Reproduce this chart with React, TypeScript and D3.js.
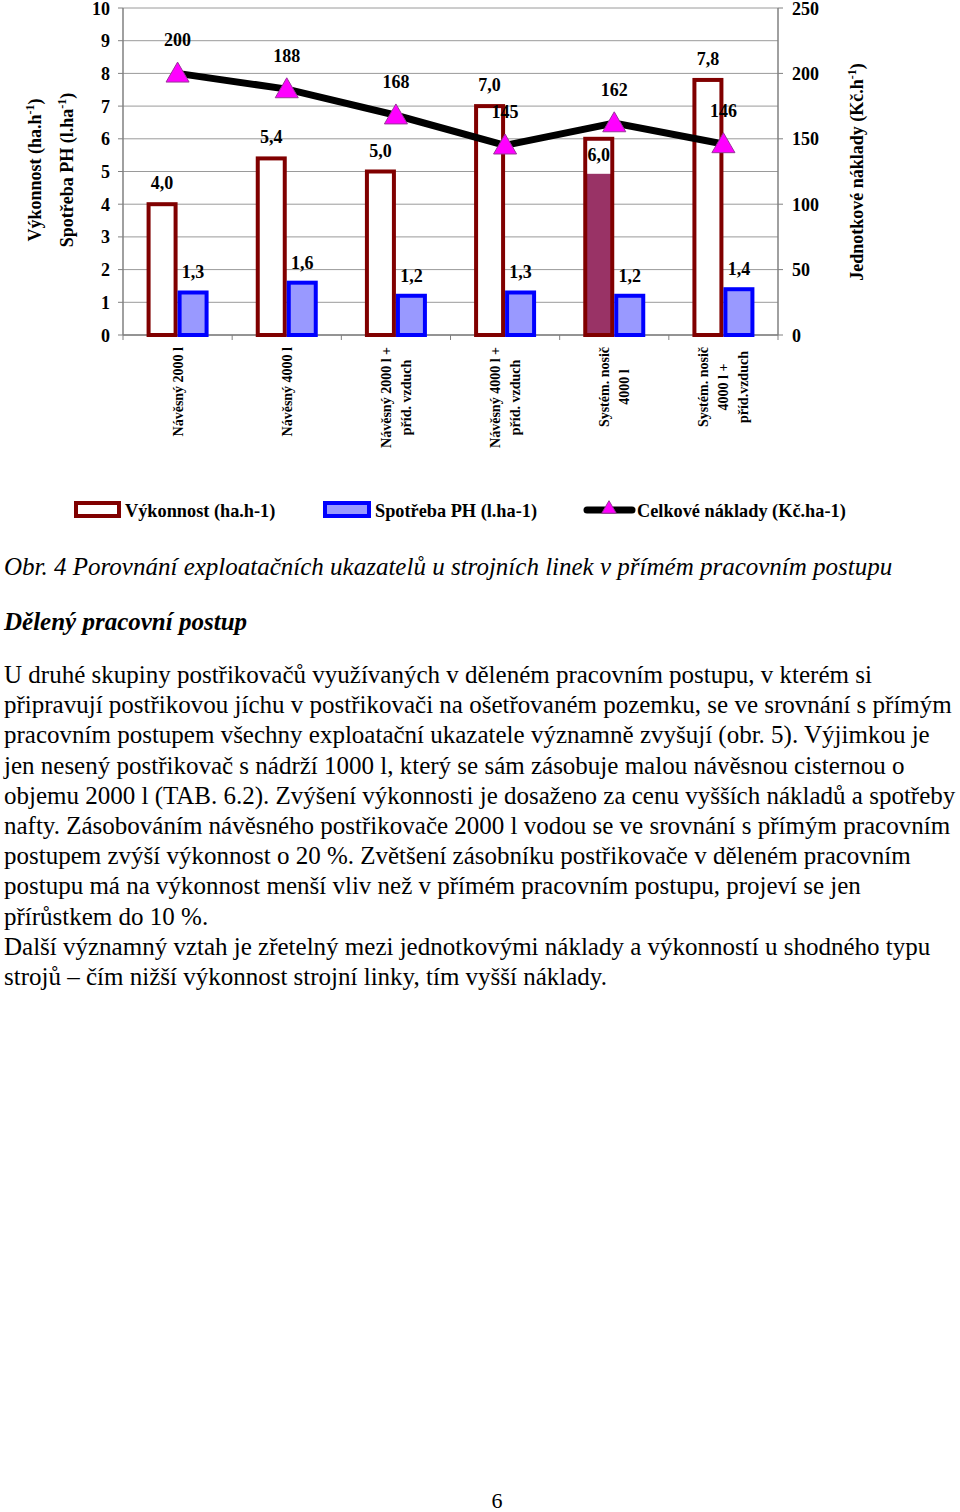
import React from "react";
import * as d3 from "d3";

const categories: string[][] = [
  ["Návěsný 2000 l"],
  ["Návěsný 4000 l"],
  ["Návěsný 2000 l +", "příd. vzduch"],
  ["Návěsný 4000 l +", "příd. vzduch"],
  ["Systém. nosič", "4000 l"],
  ["Systém. nosič", "4000 l +", "příd.vzduch"],
];
const vykonnost = [4.0, 5.4, 5.0, 7.0, 6.0, 7.8];
const spotreba = [1.3, 1.6, 1.2, 1.3, 1.2, 1.4];
const naklady = [200, 188, 168, 145, 162, 146];
const leftTicks = [0, 1, 2, 3, 4, 5, 6, 7, 8, 9, 10];
const rightTicks = [0, 50, 100, 150, 200, 250];
const highlightIndex = 4;

const caption = "Obr. 4 Porovnání exploatačních ukazatelů u strojních linek v přímém pracovním postupu";
const heading = "Dělený pracovní postup";
const bodyLines = [
  "U druhé skupiny postřikovačů využívaných v děleném pracovním postupu, v kterém si",
  "připravují postřikovou jíchu v postřikovači na ošetřovaném pozemku, se ve srovnání s přímým",
  "pracovním postupem všechny exploatační ukazatele významně zvyšují (obr. 5). Výjimkou je",
  "jen nesený postřikovač s nádrží 1000 l, který se sám zásobuje malou návěsnou cisternou o",
  "objemu 2000 l (TAB. 6.2). Zvýšení výkonnosti je dosaženo za cenu vyšších nákladů a spotřeby",
  "nafty. Zásobováním návěsného postřikovače 2000 l vodou se ve srovnání s přímým pracovním",
  "postupem zvýší výkonnost o 20 %. Zvětšení zásobníku postřikovače v děleném pracovním",
  "postupu má na výkonnost menší vliv než v přímém pracovním postupu, projeví se jen",
  "přírůstkem do 10 %.",
  "Další významný vztah je zřetelný mezi jednotkovými náklady a výkonností u shodného typu",
  "strojů – čím nižší výkonnost strojní linky, tím vyšší náklady.",
];

const FONT = "'Liberation Serif', 'Times New Roman', serif";
const CAT_FONT = 14;

let measureCtx: CanvasRenderingContext2D | null = null;
function measure(text: string, font: string): number {
  if (!measureCtx) {
    const c = document.createElement("canvas");
    measureCtx = c.getContext("2d");
  }
  if (!measureCtx) return text.length * 7;
  measureCtx.font = font;
  return measureCtx.measureText(text).width;
}

export default function App() {
  const left = 123, right = 778, top = 8, bottom = 335;
  const idx = categories.map((_, i) => i);
  const x0 = d3.scaleBand<number>().domain(idx).range([left, right]);
  const bw = x0.bandwidth();
  const x1 = d3.scaleBand<string>().domain(["v", "s"]).range([bw / 2 - 31, bw / 2 + 31]);
  const yL = d3.scaleLinear().domain([0, 10]).range([bottom, top]);
  const yR = d3.scaleLinear().domain([0, 250]).range([bottom, top]);
  const cx = (i: number) => (x0(i) as number) + bw / 2;
  const line = d3.line<number>().x((_, i) => cx(i)).y((d) => yR(d));
  const tri = d3.symbol().type(d3.symbolTriangle).size(230)();

  const darkRed = "#800000";
  const blue = "#0000FF";
  const lightBlue = "#9999FF";
  const purple = "#993366";
  const grid = "#9a9a9a";
  const sw = 4;
  const catFont = `bold ${CAT_FONT}px 'Liberation Serif'`;

  return (
    <svg width={960} height={1512} style={{ position: "absolute", left: 0, top: 0, background: "#fff" }} fontFamily={FONT}>
      <rect x={0} y={0} width={960} height={1512} fill="#fff" />
      {leftTicks.map((t) => (
        <line key={"g" + t} x1={left} x2={right} y1={yL(t)} y2={yL(t)} stroke={grid} strokeWidth={1} />
      ))}
      <line x1={left} x2={left} y1={top} y2={bottom} stroke="#808080" strokeWidth={1.5} />
      <line x1={right} x2={right} y1={top} y2={bottom} stroke="#808080" strokeWidth={1.5} />
      <line x1={left} x2={right} y1={bottom} y2={bottom} stroke="#808080" strokeWidth={1.5} />
      {leftTicks.map((t) => (
        <g key={"lt" + t}>
          <line x1={left - 5} x2={left} y1={yL(t)} y2={yL(t)} stroke="#808080" />
          <text x={110} y={yL(t) + 6.5} textAnchor="end" fontSize={18} fontWeight="bold">{t}</text>
        </g>
      ))}
      {rightTicks.map((t) => (
        <g key={"rt" + t}>
          <line x1={right} x2={right + 5} y1={yR(t)} y2={yR(t)} stroke="#808080" />
          <text x={792} y={yR(t) + 6.5} textAnchor="start" fontSize={18} fontWeight="bold">{t}</text>
        </g>
      ))}
      {idx.concat([idx.length]).map((i) => {
        const xx = i < idx.length ? (x0(i) as number) : right;
        return <line key={"xt" + i} x1={xx} x2={xx} y1={bottom} y2={bottom + 5} stroke="#808080" />;
      })}
      {vykonnost.map((v, i) => {
        const bx = (x0(i) as number) + (x1("v") as number);
        const w = x1.bandwidth();
        const hl = i === highlightIndex;
        return (
          <g key={"v" + i}>
            <rect x={bx + sw / 2} y={yL(v)} width={w - sw} height={bottom - yL(v)} fill={hl ? purple : "#fff"} stroke={darkRed} strokeWidth={sw} />
            {hl ? <rect x={bx + sw} y={yL(v) + sw / 2} width={w - 2 * sw} height={33} fill="#fff" /> : null}
            <text x={bx + w / 2} y={hl ? yL(v) + 22 : yL(v) - 15} textAnchor="middle" fontSize={18} fontWeight="bold">
              {v.toFixed(1).replace(".", ",")}
            </text>
          </g>
        );
      })}
      {spotreba.map((v, i) => {
        const bx = (x0(i) as number) + (x1("s") as number);
        const w = x1.bandwidth();
        return (
          <g key={"s" + i}>
            <rect x={bx + sw / 2} y={yL(v)} width={w - sw} height={bottom - yL(v)} fill={lightBlue} stroke={blue} strokeWidth={sw} />
            <text x={bx + w / 2} y={yL(v) - 14} textAnchor="middle" fontSize={18} fontWeight="bold">
              {v.toFixed(1).replace(".", ",")}
            </text>
          </g>
        );
      })}
      <path d={line(naklady) as string} fill="none" stroke="#000" strokeWidth={7} />
      {naklady.map((v, i) => (
        <g key={"n" + i}>
          <path d={tri as string} transform={`translate(${cx(i)},${yR(v) + 2})`} fill="#FF00FF" stroke="#993399" strokeWidth={1} />
          <text x={cx(i)} y={yR(v) - 27} textAnchor="middle" fontSize={18} fontWeight="bold">{v}</text>
        </g>
      ))}
      {categories.map((lines, i) => {
        const n = lines.length;
        const maxW = Math.max(...lines.map((l) => measure(l, catFont)));
        const centerY = 347 + maxW / 2;
        return (
          <g key={"c" + i}>
            {lines.map((ln, j) => {
              const bx = cx(i) + (j - (n - 1) / 2) * 20 + 5;
              return (
                <text key={j} transform={`translate(${bx},${centerY}) rotate(-90)`} textAnchor="middle" fontSize={CAT_FONT} fontWeight="bold">
                  {ln}
                </text>
              );
            })}
          </g>
        );
      })}
      <text transform="translate(41,170) rotate(-90)" textAnchor="middle" fontSize={18} fontWeight="bold">
        Výkonnost (ha.h<tspan dy={-7} fontSize={12}>-1</tspan><tspan dy={7}>)</tspan>
      </text>
      <text transform="translate(73,170) rotate(-90)" textAnchor="middle" fontSize={18} fontWeight="bold">
        Spotřeba PH (l.ha<tspan dy={-7} fontSize={12}>-1</tspan><tspan dy={7}>)</tspan>
      </text>
      <text transform="translate(863,172) rotate(-90)" textAnchor="middle" fontSize={18} fontWeight="bold">
        Jednotkové náklady (Kč.h<tspan dy={-7} fontSize={12}>-1</tspan><tspan dy={7}>)</tspan>
      </text>
      <rect x={76} y={503} width={43} height={13} fill="#fff" stroke={darkRed} strokeWidth={4} />
      <text x={125} y={517} fontSize={18.3} fontWeight="bold">Výkonnost (ha.h-1)</text>
      <rect x={325} y={503} width={44} height={13} fill={lightBlue} stroke={blue} strokeWidth={4} />
      <text x={375} y={517} fontSize={18.3} fontWeight="bold">Spotřeba PH (l.ha-1)</text>
      <line x1={587} x2={632} y1={510} y2={510} stroke="#000" strokeWidth={7} strokeLinecap="round" />
      <path d={d3.symbol().type(d3.symbolTriangle).size(90)() as string} transform="translate(609,509)" fill="#FF00FF" stroke="#993399" strokeWidth={1} />
      <text x={637} y={517} fontSize={18.3} fontWeight="bold">Celkové náklady (Kč.ha-1)</text>
      <text x={4} y={575} fontSize={25} fontStyle="italic">{caption}</text>
      <text x={4} y={630} fontSize={25} fontStyle="italic" fontWeight="bold">{heading}</text>
      {bodyLines.map((t, i) => (
        <text key={"b" + i} x={4} y={683 + i * 30.2} fontSize={25}>{t}</text>
      ))}
      <text x={497} y={1508} textAnchor="middle" fontSize={22}>6</text>
    </svg>
  );
}
